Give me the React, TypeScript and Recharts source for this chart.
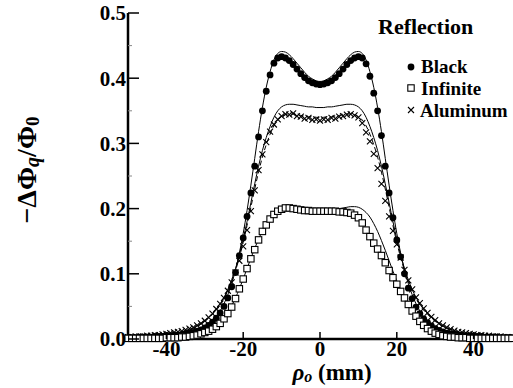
import { ComposedChart, Line, Scatter, XAxis, YAxis, Customized } from "recharts";

// rho_o in mm, 1 mm steps
const rho = [
  -50, -49, -48, -47, -46, -45, -44, -43, -42, -41,
  -40, -39, -38, -37, -36, -35, -34, -33, -32, -31,
  -30, -29, -28, -27, -26, -25, -24, -23, -22, -21,
  -20, -19, -18, -17, -16, -15, -14, -13, -12, -11,
  -10, -9, -8, -7, -6, -5, -4, -3, -2, -1,
  0,
  1, 2, 3, 4, 5, 6, 7, 8, 9, 10,
  11, 12, 13, 14, 15, 16, 17, 18, 19, 20,
  21, 22, 23, 24, 25, 26, 27, 28, 29, 30,
  31, 32, 33, 34, 35, 36, 37, 38, 39, 40,
  41, 42, 43, 44, 45, 46, 47, 48, 49, 50,
];

// measured
const black = [
  0.002, 0.002, 0.002, 0.003, 0.003, 0.003, 0.003, 0.004, 0.004, 0.004,
  0.005, 0.005, 0.006, 0.006, 0.007, 0.008, 0.009, 0.010, 0.012, 0.014,
  0.017, 0.021, 0.026, 0.032, 0.040, 0.050, 0.063, 0.080, 0.102, 0.128,
  0.155, 0.188, 0.224, 0.265, 0.310, 0.350, 0.380, 0.405, 0.423, 0.431,
  0.433, 0.431, 0.427, 0.421, 0.414, 0.407, 0.401, 0.396, 0.393, 0.391,
  0.390,
  0.391, 0.393, 0.396, 0.401, 0.407, 0.414, 0.421, 0.427, 0.431, 0.433,
  0.431, 0.422, 0.403, 0.377, 0.350, 0.312, 0.265, 0.224, 0.186, 0.152,
  0.126, 0.100, 0.078, 0.062, 0.049, 0.039, 0.031, 0.025, 0.020, 0.016,
  0.013, 0.011, 0.009, 0.008, 0.007, 0.006, 0.006, 0.005, 0.005, 0.004,
  0.004, 0.004, 0.003, 0.003, 0.003, 0.003, 0.002, 0.002, 0.002, 0.002,
];

const infinite = [
  0.001, 0.001, 0.001, 0.001, 0.001, 0.001, 0.001, 0.001, 0.001, 0.001,
  0.002, 0.002, 0.002, 0.002, 0.003, 0.003, 0.004, 0.005, 0.006, 0.008,
  0.010, 0.012, 0.015, 0.019, 0.024, 0.031, 0.039, 0.049, 0.062, 0.077,
  0.092, 0.108, 0.123, 0.137, 0.152, 0.165, 0.175, 0.184, 0.191, 0.196,
  0.199, 0.201, 0.201, 0.200, 0.199, 0.198, 0.197, 0.197, 0.196, 0.196,
  0.196,
  0.196, 0.196, 0.196, 0.196, 0.195, 0.195, 0.194, 0.193, 0.190, 0.186,
  0.178, 0.167, 0.157, 0.147, 0.138, 0.128, 0.117, 0.105, 0.094, 0.084,
  0.073, 0.063, 0.053, 0.043, 0.035, 0.027, 0.021, 0.016, 0.012, 0.009,
  0.007, 0.005, 0.004, 0.003, 0.003, 0.002, 0.002, 0.002, 0.001, 0.001,
  0.001, 0.001, 0.001, 0.001, 0.001, 0.001, 0.001, 0.001, 0.001, 0.001,
];

const aluminum = [
  0.003, 0.003, 0.004, 0.004, 0.004, 0.005, 0.005, 0.006, 0.006, 0.007,
  0.008, 0.009, 0.010, 0.011, 0.012, 0.014, 0.016, 0.018, 0.021, 0.024,
  0.028, 0.033, 0.039, 0.046, 0.054, 0.063, 0.074, 0.087, 0.102, 0.120,
  0.142, 0.167, 0.196, 0.228, 0.259, 0.283, 0.302, 0.318, 0.329, 0.337,
  0.342, 0.345, 0.344, 0.346, 0.342, 0.341, 0.338, 0.339, 0.336, 0.337,
  0.335,
  0.337, 0.336, 0.339, 0.338, 0.341, 0.342, 0.344, 0.345, 0.343, 0.340,
  0.331, 0.317, 0.303, 0.284, 0.262, 0.238, 0.212, 0.188, 0.166, 0.145,
  0.125, 0.106, 0.090, 0.076, 0.064, 0.055, 0.047, 0.040, 0.034, 0.029,
  0.024, 0.021, 0.018, 0.015, 0.013, 0.011, 0.010, 0.009, 0.008, 0.007,
  0.006, 0.006, 0.005, 0.005, 0.004, 0.004, 0.004, 0.003, 0.003, 0.003,
];

// theory curves
const blackFit = [
  0.001, 0.001, 0.001, 0.001, 0.001, 0.001, 0.002, 0.002, 0.002, 0.002,
  0.003, 0.003, 0.004, 0.004, 0.005, 0.006, 0.007, 0.009, 0.011, 0.014,
  0.017, 0.022, 0.027, 0.034, 0.043, 0.054, 0.068, 0.085, 0.106, 0.132,
  0.162, 0.197, 0.236, 0.277, 0.318, 0.355, 0.386, 0.410, 0.428, 0.438,
  0.441, 0.440, 0.436, 0.430, 0.423, 0.416, 0.409, 0.403, 0.399, 0.396,
  0.395,
  0.396, 0.399, 0.403, 0.409, 0.416, 0.423, 0.430, 0.436, 0.440, 0.441,
  0.438, 0.428, 0.410, 0.386, 0.355, 0.318, 0.277, 0.236, 0.197, 0.162,
  0.132, 0.106, 0.085, 0.068, 0.054, 0.043, 0.034, 0.027, 0.022, 0.017,
  0.014, 0.011, 0.009, 0.007, 0.006, 0.005, 0.004, 0.004, 0.003, 0.003,
  0.002, 0.002, 0.002, 0.002, 0.001, 0.001, 0.001, 0.001, 0.001, 0.001,
];

const infiniteFit = [
  0.001, 0.001, 0.001, 0.001, 0.001, 0.001, 0.001, 0.001, 0.001, 0.001,
  0.002, 0.002, 0.002, 0.003, 0.003, 0.004, 0.005, 0.006, 0.007, 0.009,
  0.011, 0.014, 0.017, 0.021, 0.026, 0.033, 0.041, 0.051, 0.063, 0.077,
  0.092, 0.108, 0.124, 0.139, 0.153, 0.166, 0.177, 0.185, 0.191, 0.195,
  0.197, 0.198, 0.198, 0.198, 0.198, 0.198, 0.198, 0.198, 0.198, 0.198,
  0.198,
  0.198, 0.198, 0.199, 0.199, 0.200, 0.201, 0.202, 0.203, 0.203, 0.202,
  0.199, 0.194, 0.187, 0.177, 0.165, 0.151, 0.136, 0.120, 0.104, 0.089,
  0.075, 0.062, 0.051, 0.041, 0.033, 0.026, 0.021, 0.016, 0.013, 0.010,
  0.008, 0.006, 0.005, 0.004, 0.003, 0.003, 0.002, 0.002, 0.002, 0.002,
  0.001, 0.001, 0.001, 0.001, 0.001, 0.001, 0.001, 0.001, 0.001, 0.001,
];

const aluminumFit = [
  0.002, 0.002, 0.002, 0.003, 0.003, 0.003, 0.004, 0.004, 0.005, 0.005,
  0.006, 0.007, 0.008, 0.009, 0.011, 0.013, 0.015, 0.017, 0.020, 0.024,
  0.028, 0.033, 0.039, 0.046, 0.054, 0.064, 0.076, 0.091, 0.108, 0.129,
  0.153, 0.180, 0.209, 0.238, 0.265, 0.289, 0.309, 0.326, 0.340, 0.350,
  0.356, 0.359, 0.360, 0.360, 0.359, 0.358, 0.357, 0.356, 0.356, 0.355,
  0.355,
  0.355, 0.356, 0.356, 0.357, 0.358, 0.359, 0.360, 0.360, 0.359, 0.356,
  0.350, 0.340, 0.326, 0.309, 0.289, 0.265, 0.238, 0.209, 0.180, 0.153,
  0.129, 0.108, 0.091, 0.076, 0.064, 0.054, 0.046, 0.039, 0.033, 0.028,
  0.024, 0.020, 0.017, 0.015, 0.013, 0.011, 0.009, 0.008, 0.007, 0.006,
  0.005, 0.005, 0.004, 0.004, 0.003, 0.003, 0.003, 0.002, 0.002, 0.002,
];

const aluminumDash = [
  0.002, 0.002, 0.002, 0.003, 0.003, 0.003, 0.004, 0.004, 0.005, 0.005,
  0.006, 0.007, 0.008, 0.009, 0.010, 0.012, 0.014, 0.016, 0.019, 0.023,
  0.027, 0.032, 0.038, 0.044, 0.052, 0.062, 0.074, 0.088, 0.105, 0.125,
  0.148, 0.174, 0.202, 0.230, 0.256, 0.279, 0.298, 0.314, 0.327, 0.336,
  0.341, 0.344, 0.345, 0.345, 0.344, 0.343, 0.342, 0.341, 0.341, 0.340,
  0.340,
  0.340, 0.341, 0.341, 0.342, 0.343, 0.344, 0.345, 0.345, 0.344, 0.341,
  0.336, 0.327, 0.314, 0.298, 0.279, 0.256, 0.230, 0.202, 0.174, 0.148,
  0.125, 0.105, 0.088, 0.074, 0.062, 0.052, 0.044, 0.038, 0.032, 0.027,
  0.023, 0.019, 0.016, 0.014, 0.012, 0.010, 0.009, 0.008, 0.007, 0.006,
  0.005, 0.005, 0.004, 0.004, 0.003, 0.003, 0.003, 0.002, 0.002, 0.002,
];

const xTicks = [-40, -20, 0, 20, 40];
const yTicks = [0, 0.05, 0.1, 0.15, 0.2, 0.25, 0.3, 0.35, 0.4, 0.45, 0.5];

const data = rho.map((r, i) => ({
  rho: r,
  black: black[i],
  infinite: infinite[i],
  aluminum: aluminum[i],
  blackFit: blackFit[i],
  infiniteFit: infiniteFit[i],
  aluminumFit: aluminumFit[i],
  aluminumDash: aluminumDash[i],
}));

const serif = "'Liberation Serif', 'Times New Roman', serif";
const tickFont = { fontFamily: serif, fontWeight: 700, fontSize: 21, fill: "#000" };
const legendFont = { fontFamily: serif, fontWeight: 700, fill: "#000" };

const isMajor = (v: number) => Math.abs(v * 10 - Math.round(v * 10)) < 1e-6;

const XTick = (p: any) => (
  <g>
    <line x1={p.x} y1={p.y} x2={p.x} y2={p.y - 7} stroke="#000" strokeWidth={1.5} />
    <text x={p.x} y={p.y + 17} textAnchor="middle" style={tickFont}>
      {p.payload.value}
    </text>
  </g>
);

const YTick = (p: any) => {
  const v = p.payload.value;
  if (!isMajor(v)) {
    return <line x1={p.x} y1={p.y} x2={p.x + 4} y2={p.y} stroke="#888" strokeWidth={1} />;
  }
  return (
    <g>
      <line x1={p.x} y1={p.y} x2={p.x + 11} y2={p.y} stroke="#000" strokeWidth={1.5} />
      <text x={p.x - 2} y={p.y} dy="0.35em" textAnchor="end" style={tickFont}>
        {v.toFixed(1)}
      </text>
    </g>
  );
};

const RightTick = (p: any) =>
  isMajor(p.payload.value) && p.payload.value > 0 && p.payload.value < 0.5 ? (
    <line x1={p.x} y1={p.y} x2={p.x - 12} y2={p.y} stroke="#000" strokeWidth={1.5} />
  ) : (
    <g />
  );

const Dot = (p: any) => <circle cx={p.cx} cy={p.cy} r={3.4} fill="#000" />;
const Square = (p: any) => (
  <rect x={p.cx - 3.2} y={p.cy - 3.2} width={6.4} height={6.4} fill="#fff" stroke="#000" strokeWidth={1.1} />
);
const Cross = (p: any) => (
  <path
    d={`M${p.cx - 3},${p.cy - 3}L${p.cx + 3},${p.cy + 3}M${p.cx - 3},${p.cy + 3}L${p.cx + 3},${p.cy - 3}`}
    stroke="#000"
    strokeWidth={1.1}
  />
);

const Annotations = () => (
  <g>
    <text x={378} y={34} style={{ ...legendFont, fontSize: 22 }}>Reflection</text>
    <circle cx={411} cy={67} r={3.4} fill="#000" />
    <text x={421} y={73} style={{ ...legendFont, fontSize: 19 }}>Black</text>
    <rect x={407.8} y={84.8} width={6.4} height={6.4} fill="#fff" stroke="#000" strokeWidth={1.1} />
    <text x={421} y={95} style={{ ...legendFont, fontSize: 19 }}>Infinite</text>
    <path d="M408,107L414,113M408,113L414,107" stroke="#000" strokeWidth={1.1} />
    <text x={420} y={117} style={{ ...legendFont, fontSize: 19 }}>Aluminum</text>
    <text
      x={26}
      y={170}
      transform="rotate(-90, 26, 170)"
      textAnchor="middle"
      dominantBaseline="central"
      style={{ fontFamily: serif, fontWeight: 700, fontSize: 28 }}
    >
      −ΔΦ
      <tspan fontStyle="italic" fontSize={20} dy={6}>q</tspan>
      <tspan dy={-6}>/Φ</tspan>
      <tspan fontSize={19} dy={6}>0</tspan>
    </text>
    <text
      x={332}
      y={380}
      textAnchor="middle"
      style={{ fontFamily: serif, fontWeight: 700, fontSize: 23 }}
    >
      <tspan fontStyle="italic">ρ</tspan>
      <tspan fontStyle="italic" fontSize={16} dy={2}>o</tspan>
      <tspan dy={-2}> (mm)</tspan>
    </text>
  </g>
);

export default function App() {
  return (
    <div style={{ position: "absolute", left: 0, top: 0, width: 513, height: 388, background: "#fff" }}>
      <ComposedChart width={513} height={388} data={data} margin={{ top: 13, right: 1, bottom: 0, left: 0 }}>
        <XAxis
          dataKey="rho"
          type="number"
          domain={[-50, 50]}
          ticks={xTicks}
          interval={0}
          tickSize={0}
          tickMargin={0}
          tick={<XTick />}
          height={49}
          axisLine={{ stroke: "#000", strokeWidth: 2.5 }}
        />
        <XAxis
          xAxisId="top"
          orientation="top"
          type="number"
          domain={[-50, 50]}
          height={0}
          tick={false}
          tickLine={false}
          axisLine={{ stroke: "#000", strokeWidth: 3 }}
        />
        <YAxis
          type="number"
          domain={[0, 0.5]}
          ticks={yTicks}
          interval={0}
          tickSize={0}
          tickMargin={0}
          tick={<YTick />}
          width={128}
          axisLine={{ stroke: "#000", strokeWidth: 2.5 }}
        />
        <YAxis
          yAxisId="right"
          orientation="right"
          type="number"
          domain={[0, 0.5]}
          ticks={yTicks}
          interval={0}
          tickSize={0}
          tickMargin={0}
          tick={<RightTick />}
          width={0}
          axisLine={{ stroke: "#000", strokeWidth: 1.5 }}
        />
        <Scatter dataKey="black" shape={Dot} isAnimationActive={false} />
        <Scatter dataKey="aluminum" shape={Cross} isAnimationActive={false} />
        <Scatter dataKey="infinite" shape={Square} isAnimationActive={false} />
        <Line dataKey="blackFit" type="monotone" stroke="#000" strokeWidth={1} dot={false} isAnimationActive={false} />
        <Line dataKey="aluminumFit" type="monotone" stroke="#000" strokeWidth={1} dot={false} isAnimationActive={false} />
        <Line
          dataKey="aluminumDash"
          type="monotone"
          stroke="#000"
          strokeWidth={1}
          strokeDasharray="5 3"
          dot={false}
          isAnimationActive={false}
        />
        <Line dataKey="infiniteFit" type="monotone" stroke="#000" strokeWidth={1} dot={false} isAnimationActive={false} />
        <Customized component={Annotations} />
      </ComposedChart>
    </div>
  );
}
